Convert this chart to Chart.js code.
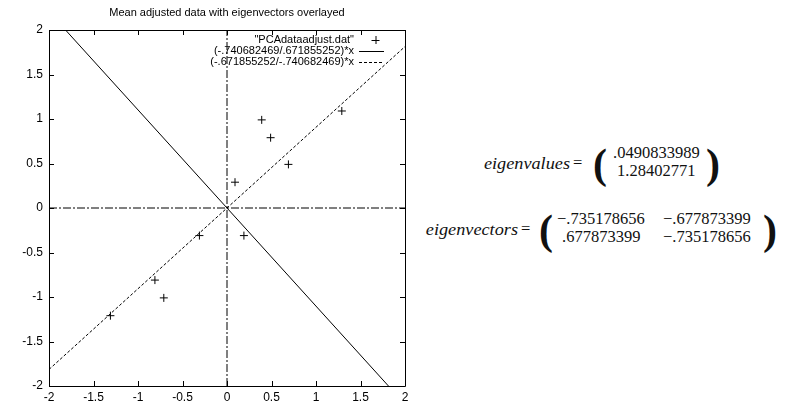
<!DOCTYPE html>
<html>
<head>
<meta charset="utf-8">
<script src="https://cdn.jsdelivr.net/npm/chart.js@4/dist/chart.umd.min.js"></script>
<style>
  html, body { margin: 0; padding: 0; background: #fff; width: 789px; height: 405px; overflow: hidden; }
  body { position: relative; }
  #plot { position: absolute; left: 0; top: 0; }
  .eq { position: absolute; font-family: "Liberation Serif", "DejaVu Serif", serif; color: #111; white-space: nowrap; line-height: 1; }
  .lbl { font-style: italic; font-size: 16px; }
  .num { font-size: 16.5px; }
  .par { font-size: 42px; font-weight: bold; }
</style>
</head>
<body>
<canvas id="plot" width="420" height="405"></canvas>
<div id="eqs"></div>
<script>
// Mean adjusted data set
const dataX = [0.69, -1.31, 0.39, 0.09, 1.29, 0.49, 0.19, -0.81, -0.31, -0.71];
const dataY = [0.49, -1.21, 0.99, 0.29, 1.09, 0.79, -0.31, -0.81, -0.31, -1.01];

// Eigenvector components used for the two overlay lines
const vecA = [0.671855252, -0.740682469];   // line 1: (-.740682469/.671855252)*x
const vecB = [-0.740682469, -0.671855252];  // line 2: (-.671855252/-.740682469)*x
const lineX = [-2, 2];

// Legend labels
const seriesLabels = ['"PCAdataadjust.dat"', '(-.740682469/.671855252)*x', '(-.671855252/-.740682469)*x'];
const chartTitle = 'Mean adjusted data with eigenvectors overlayed';

// Axis range and tick labels
const axisMin = -2, axisMax = 2, tickStep = 0.5;

// Text shown beside the plot
const eigenvalues = ['.0490833989', '1.28402771'];
const eigenvectors = [['\u2212.735178656', '\u2212.677873399'], ['.677873399', '\u2212.735178656']];

const slopeA = vecA[1] / vecA[0];
const slopeB = vecB[1] / vecB[0];

const SANS = '"Liberation Sans", Arial, Helvetica, sans-serif';
const tickFont = { family: SANS, size: 12 };

// Frame, inward tick marks on all sides, title and key
const gnuplotLook = {
  id: 'gnuplotLook',
  afterDatasetsDraw(chart) {
    const { ctx, chartArea: a, scales: { x, y } } = chart;
    ctx.save();
    ctx.strokeStyle = '#000';
    ctx.lineWidth = 1;
    ctx.beginPath();
    ctx.rect(Math.round(a.left) + 0.5, Math.round(a.top) + 0.5,
             Math.round(a.right - a.left), Math.round(a.bottom - a.top));
    ctx.stroke();
    const len = 5;
    ctx.beginPath();
    x.ticks.forEach(t => {
      const px = Math.round(x.getPixelForValue(t.value)) + 0.5;
      ctx.moveTo(px, a.bottom); ctx.lineTo(px, a.bottom - len);
      ctx.moveTo(px, a.top); ctx.lineTo(px, a.top + len);
    });
    y.ticks.forEach(t => {
      const py = Math.round(y.getPixelForValue(t.value)) + 0.5;
      ctx.moveTo(a.left, py); ctx.lineTo(a.left + len, py);
      ctx.moveTo(a.right, py); ctx.lineTo(a.right - len, py);
    });
    ctx.stroke();
    ctx.restore();
  },
  afterDraw(chart) {
    const { ctx, chartArea: a } = chart;
    ctx.save();
    ctx.fillStyle = '#000';
    ctx.font = '11px ' + SANS;
    ctx.textAlign = 'center';
    ctx.textBaseline = 'middle';
    ctx.fillText(chartTitle, (a.left + a.right) / 2, 13);

    // key, top right inside the plot
    const textRight = 354, sx0 = 359, sx1 = 384, row0 = 40, rowH = 11;
    ctx.textAlign = 'right';
    chart.data.datasets.forEach((ds, i) => {
      if (ds.inKey === undefined) return;
      const yy = row0 + ds.inKey * rowH;
      ctx.fillText(ds.label, textRight, yy);
      ctx.strokeStyle = '#000';
      ctx.lineWidth = 1;
      if (ds.showLine === false) {
        const cx = (sx0 + sx1) / 2 + 4, r = ds.pointRadius;
        ctx.beginPath();
        ctx.moveTo(cx - r, yy + 0.5); ctx.lineTo(cx + r, yy + 0.5);
        ctx.moveTo(cx + 0.5, yy - r); ctx.lineTo(cx + 0.5, yy + r);
        ctx.stroke();
      } else {
        ctx.setLineDash(ds.borderDash || []);
        ctx.beginPath();
        ctx.moveTo(sx0, yy + 0.5); ctx.lineTo(sx1, yy + 0.5);
        ctx.stroke();
        ctx.setLineDash([]);
      }
    });
    ctx.restore();
  }
};

const pts = dataX.map((v, i) => ({ x: v, y: dataY[i] }));

new Chart(document.getElementById('plot'), {
  type: 'scatter',
  data: {
    datasets: [
      { label: seriesLabels[0], inKey: 0, data: pts, showLine: false,
        pointStyle: 'cross', pointRadius: 4, pointBorderWidth: 1,
        borderColor: '#000', backgroundColor: '#000' },
      { label: seriesLabels[1], inKey: 1, data: lineX.map(v => ({ x: v, y: slopeA * v })),
        showLine: true, pointRadius: 0, borderColor: '#000', borderWidth: 1 },
      { label: seriesLabels[2], inKey: 2, data: lineX.map(v => ({ x: v, y: slopeB * v })),
        showLine: true, pointRadius: 0, borderColor: '#000', borderWidth: 1, borderDash: [3, 2] },
      { label: 'x axis', data: [{ x: axisMin, y: 0 }, { x: axisMax, y: 0 }],
        showLine: true, pointRadius: 0, borderColor: '#000', borderWidth: 1, borderDash: [8, 2, 2, 2] },
      { label: 'y axis', data: [{ x: 0, y: axisMin }, { x: 0, y: axisMax }],
        showLine: true, pointRadius: 0, borderColor: '#000', borderWidth: 1, borderDash: [8, 2, 2, 2] }
    ]
  },
  options: {
    responsive: false,
    animation: false,
    devicePixelRatio: 1,
    layout: { padding: { top: 30, right: 15, left: 0, bottom: 0 } },
    plugins: { legend: { display: false }, title: { display: false }, tooltip: { enabled: false } },
    scales: {
      x: {
        type: 'linear', min: axisMin, max: axisMax,
        ticks: { stepSize: tickStep, font: tickFont, color: '#000', padding: 4, maxRotation: 0, autoSkip: false,
                 callback: v => String(v) },
        grid: { display: false, drawTicks: false },
        border: { display: false },
        afterFit: s => { s.height = 19; }
      },
      y: {
        type: 'linear', min: axisMin, max: axisMax,
        ticks: { stepSize: tickStep, font: tickFont, color: '#000', padding: 6, autoSkip: false,
                 callback: v => String(v) },
        grid: { display: false, drawTicks: false },
        border: { display: false },
        afterFit: s => { s.width = 49; }
      }
    }
  },
  plugins: [gnuplotLook]
});

// Eigen decomposition written out beside the plot
const eqs = document.getElementById('eqs');
function put(cls, text, left, top, opts) {
  const d = document.createElement('div');
  d.className = 'eq ' + cls;
  d.textContent = text;
  d.style.left = left + 'px';
  d.style.top = top + 'px';
  if (opts === 'label') {
    d.style.transformOrigin = '0 0';
    d.style.transform = 'translateX(-100%) scaleX(1.14)';
    d.style.transformOrigin = '100% 0';
  }
  eqs.appendChild(d);
  return d;
}
// eigenvalues
put('lbl', 'eigenvalues', 570, 156, 'label');
put('num', '=', 573, 155);
put('par', '(', 593, 143);
put('num', eigenvalues[0], 613, 145);
put('num', eigenvalues[1], 617, 163);
put('par', ')', 706, 143);
// eigenvectors
put('lbl', 'eigenvectors', 518, 222, 'label');
put('num', '=', 521, 221);
put('par', '(', 539, 209);
put('num', eigenvectors[0][0], 557, 211);
put('num', eigenvectors[0][1], 663, 211);
put('num', eigenvectors[1][0], 562, 229);
put('num', eigenvectors[1][1], 663, 229);
put('par', ')', 763, 209);
</script>
</body>
</html>
